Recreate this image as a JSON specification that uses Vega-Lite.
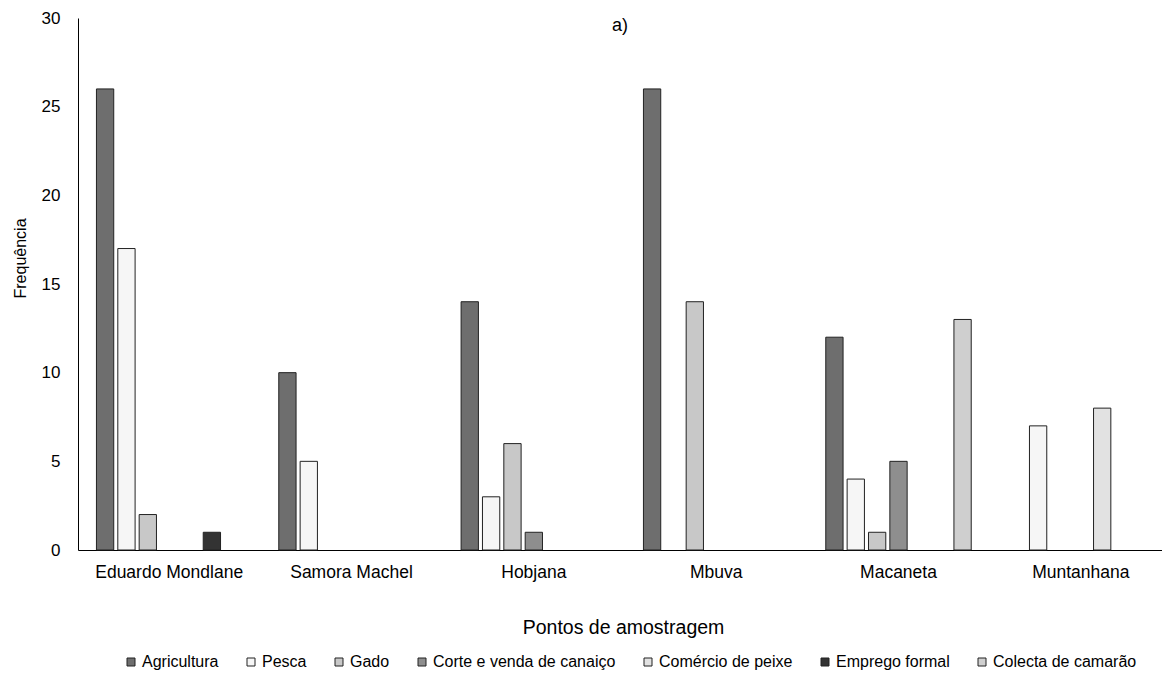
{
  "$schema": "https://vega.github.io/schema/vega-lite/v6.json",
  "width": 1084,
  "height": 532,
  "autosize": {"type": "none"},
  "padding": {"left": 78, "top": 18, "right": 0, "bottom": 142},
  "config": {
    "view": {"stroke": null},
    "font": "Liberation Sans",
    "axis": {"labelFont": "Liberation Sans", "titleFont": "Liberation Sans", "labelColor": "#000", "titleColor": "#000"}
  },
  "title": {
    "text": "a)",
    "fontSize": 18,
    "fontWeight": "normal",
    "font": "Liberation Sans",
    "color": "#000",
    "anchor": "middle",
    "baseline": "alphabetic",
    "offset": -14,
    "dy": 26
  },
  "data": {
    "values": [
      {"site": "Eduardo Mondlane", "series": "Agricultura", "value": 26},
      {"site": "Eduardo Mondlane", "series": "Pesca", "value": 17},
      {"site": "Eduardo Mondlane", "series": "Gado", "value": 2},
      {"site": "Eduardo Mondlane", "series": "Emprego formal", "value": 1},
      {"site": "Samora Machel", "series": "Agricultura", "value": 10},
      {"site": "Samora Machel", "series": "Pesca", "value": 5},
      {"site": "Hobjana", "series": "Agricultura", "value": 14},
      {"site": "Hobjana", "series": "Pesca", "value": 3},
      {"site": "Hobjana", "series": "Gado", "value": 6},
      {"site": "Hobjana", "series": "Corte e venda de canaiço", "value": 1},
      {"site": "Mbuva", "series": "Agricultura", "value": 26},
      {"site": "Mbuva", "series": "Gado", "value": 14},
      {"site": "Macaneta", "series": "Agricultura", "value": 12},
      {"site": "Macaneta", "series": "Pesca", "value": 4},
      {"site": "Macaneta", "series": "Gado", "value": 1},
      {"site": "Macaneta", "series": "Corte e venda de canaiço", "value": 5},
      {"site": "Macaneta", "series": "Colecta de camarão", "value": 13},
      {"site": "Muntanhana", "series": "Pesca", "value": 7},
      {"site": "Muntanhana", "series": "Comércio de peixe", "value": 8}
    ]
  },
  "mark": {"type": "bar", "stroke": "#222", "strokeWidth": 1},
  "encoding": {
    "x": {
      "field": "site",
      "type": "nominal",
      "sort": ["Eduardo Mondlane", "Samora Machel", "Hobjana", "Mbuva", "Macaneta", "Muntanhana"],
      "scale": {
        "domain": ["Eduardo Mondlane", "Samora Machel", "Hobjana", "Mbuva", "Macaneta", "Muntanhana"],
        "range": [0, 1094],
        "paddingInner": 0.18,
        "paddingOuter": 0.09
      },
      "axis": {
        "title": "Pontos de amostragem",
        "labelAngle": 0,
        "ticks": false,
        "domainColor": "#000",
        "domainWidth": 1,
        "labelFontSize": 17.5,
        "labelPadding": 13,
        "titleFontSize": 19.5,
        "titleFontWeight": "normal",
        "titleBaseline": "alphabetic",
        "titleX": 545,
        "titleY": 83
      }
    },
    "xOffset": {
      "field": "series",
      "type": "nominal",
      "scale": {
        "domain": ["Agricultura", "Pesca", "Gado", "Corte e venda de canaiço", "Comércio de peixe", "Emprego formal", "Colecta de camarão"],
        "paddingInner": 0.19,
        "paddingOuter": 0.095
      }
    },
    "y": {
      "field": "value",
      "type": "quantitative",
      "scale": {"domain": [0, 30], "nice": false},
      "axis": {
        "title": "Frequência",
        "values": [0, 5, 10, 15, 20, 25, 30],
        "grid": false,
        "ticks": false,
        "domainColor": "#000",
        "domainWidth": 1,
        "labelFontSize": 17,
        "labelPadding": 18,
        "titleFontSize": 16,
        "titleFontWeight": "normal",
        "titleBaseline": "middle",
        "titleX": -58,
        "titleY": 240
      }
    },
    "fill": {
      "field": "series",
      "type": "nominal",
      "scale": {
        "domain": ["Agricultura", "Pesca", "Gado", "Corte e venda de canaiço", "Comércio de peixe", "Emprego formal", "Colecta de camarão"],
        "range": ["#6e6e6e", "#f6f6f6", "#c8c8c8", "#8e8e8e", "#e2e2e2", "#333333", "#cfcfcf"]
      },
      "legend": {
        "title": null,
        "orient": "none",
        "direction": "horizontal",
        "legendX": 45,
        "legendY": 636,
        "symbolType": "square",
        "symbolSize": 64,
        "symbolStrokeColor": "#222",
        "symbolStrokeWidth": 1,
        "labelFontSize": 16,
        "labelFont": "Liberation Sans",
        "labelColor": "#000",
        "labelOffset": 3,
        "columnPadding": 24,
        "labelLimit": 400
      }
    }
  }
}
